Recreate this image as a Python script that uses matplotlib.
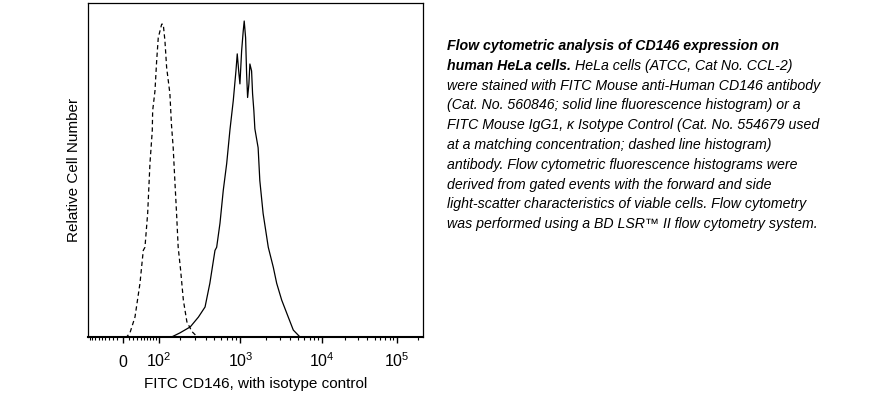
import numpy as np
import matplotlib
matplotlib.use("Agg")
import matplotlib.pyplot as plt

plt.rcParams["font.family"] = ["Liberation Sans", "DejaVu Sans"]
plt.rcParams["mathtext.fontset"] = "custom"
plt.rcParams["mathtext.rm"] = "Liberation Sans"
plt.rcParams["mathtext.default"] = "regular"

# FITC fluorescence (data units) and relative cell number (% of peak)
iso_x = [3, 6.0, 13.0, 25.1, 38.4, 47.8, 52.8, 61.1, 68.4, 76.1, 77.4, 85.4, 91.4, 97.3,
         110.4, 116.7, 123.7, 130.9, 145.5, 152.5, 161.1, 169.5, 178.4, 187.1, 200.9, 217,
         239.6, 275.8, 319.2, 5300]
iso_y = [0, 0, 1.3, 6.3, 17.0, 27.4, 28.4, 39.1, 54.9, 65.3, 71.6, 77.9, 87.4, 94.7,
         99.0, 99.0, 93.7, 85.3, 77.0, 67.5, 60.0, 49.5, 39.1, 28.4, 21.1, 11.7,
         4.8, 1.7, 0, 0]

cd146_x = [140, 153.4, 196.8, 263.0, 327.7, 391.1, 444.1, 508.5, 531.6, 580.3, 633.0, 693.3,
           756.3, 826.0, 887.3, 918.8, 961.5, 987.6, 1033.6, 1079.0, 1108.6, 1151.3, 1182.9,
           1215.4, 1258.9, 1293.5, 1354.5, 1391.6, 1441.6, 1481.5, 1620.5, 1697.9, 1859.7,
           2146.9, 2469.2, 2716.7, 3128.9, 3774.7, 4360.3, 5291.4]
cd146_y = [0, 0, 1.3, 3.2, 6.3, 9.5, 17.0, 27.4, 28.4, 36.0, 46.4, 54.9, 65.6, 74.8, 84.2,
           89.6, 83.3, 80.1, 90.5, 96.8, 100, 94.7, 83.3, 75.8, 80.1, 86.4, 84.2, 77.0,
           71.6, 65.9, 59.9, 49.5, 39.1, 28.4, 22.1, 17.0, 11.7, 6.3, 2.2, 0]

major_ticks = [0, 1e2, 1e3, 1e4, 1e5]
major_labels = ["0", "$10^2$", "$10^3$", "$10^4$", "$10^5$"]
minor_ticks = ([-v for v in range(10, 100, 10)] + list(range(10, 100, 10))
               + list(range(200, 1000, 100)) + list(range(2000, 10000, 1000))
               + list(range(20000, 100000, 10000)) + [200000])

caption_head = ["Flow cytometric analysis of CD146 expression on", "human HeLa cells."]
caption_rest = [
    "HeLa cells (ATCC, Cat No. CCL-2)",
    "were stained with FITC Mouse anti-Human CD146 antibody",
    "(Cat. No. 560846; solid line fluorescence histogram) or a",
    "FITC Mouse IgG1, \u03ba Isotype Control (Cat. No. 554679 used",
    "at a matching concentration; dashed line histogram)",
    "antibody. Flow cytometric fluorescence histograms were",
    "derived from gated events with the forward and side",
    "light-scatter characteristics of viable cells. Flow cytometry",
    "was performed using a BD LSR\u2122 II flow cytometry system.",
]

# biexponential-like display scale (asinh, slightly compressed at the top end)
C, P = 150.0, 0.83


def fwd(x):
    g = np.arcsinh(np.asarray(x, dtype=float) / C)
    return np.sign(g) * np.abs(g) ** P


def inv(y):
    y = np.asarray(y, dtype=float)
    return C * np.sinh(np.sign(y) * np.abs(y) ** (1 / P))


W, H = 893, 397
fig = plt.figure(figsize=(W / 100, H / 100), dpi=100)
ax = fig.add_axes([88 / W, 1 - 337 / H, (423 - 88) / W, (337 - 3) / H])
ax.set_xscale("function", functions=(fwd, inv))

ax.plot(iso_x, iso_y, color="black", lw=0.9, linestyle=(0, (3.5, 2.5)))
ax.plot(cd146_x, cd146_y, color="black", lw=0.9)

ax.set_xlim(-96, 232000)
ax.set_ylim(0, 105.7)
ax.set_yticks([])

ax.set_xticks(major_ticks)
ax.set_xticklabels(major_labels, fontsize=11.5)
ax.set_xticks(minor_ticks, minor=True)
ax.tick_params(axis="x", which="major", direction="out", length=4.5, width=1.0, pad=17)
ax.tick_params(axis="x", which="minor", direction="out", length=2.4, width=0.8)
for lab in ax.get_xticklabels():
    lab.set_verticalalignment("baseline")

for s in ax.spines.values():
    s.set_linewidth(0.9)
ax.spines["bottom"].set_linewidth(1.5)

ax.set_xlabel("FITC CD146, with isotype control", fontsize=11, labelpad=5)
ax.set_ylabel("Relative Cell Number", fontsize=11, labelpad=5)

# caption block on the right
x0 = 447
base0 = 50
step = 19.8
fs = 10.2
fig.text(x0 / W, 1 - base0 / H, caption_head[0], fontsize=fs, fontweight="bold",
         style="italic", va="baseline", ha="left")
t2 = fig.text(x0 / W, 1 - (base0 + step) / H, caption_head[1], fontsize=fs,
              fontweight="bold", style="italic", va="baseline", ha="left")
renderer = fig.canvas.get_renderer()
bb = t2.get_window_extent(renderer)
fig.text((bb.x1 + 4) / W, 1 - (base0 + step) / H, caption_rest[0], fontsize=fs,
         style="italic", va="baseline", ha="left")
for i, line in enumerate(caption_rest[1:]):
    fig.text(x0 / W, 1 - (base0 + step * (i + 2)) / H, line, fontsize=fs,
             style="italic", va="baseline", ha="left")

fig.savefig("out.png", dpi=100)
